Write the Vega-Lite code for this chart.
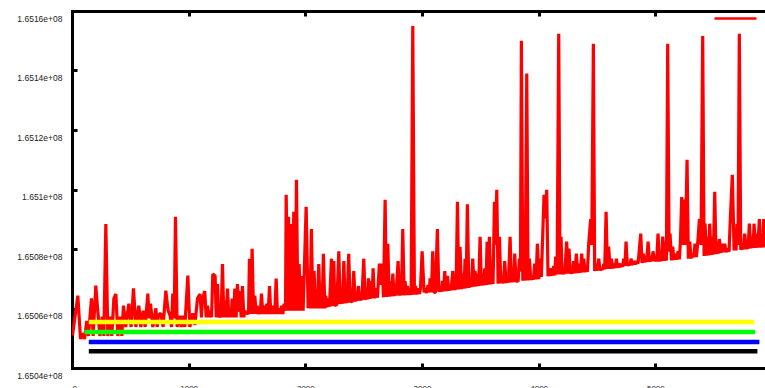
{
"$schema": "https://vega.github.io/schema/vega-lite/v6.json",
"width": 693, "height": 357,
"autosize": {"type": "none"},
"padding": {"left": 72, "top": 11, "right": 0, "bottom": 20},
"background": "white",
"config": {
  "view": {"stroke": null},
  "axis": {"grid": false, "domainColor": "black", "domainWidth": 3, "domainCap": "square", "tickColor": "black", "tickWidth": 3, "tickSize": -5, "labelFont": "Liberation Sans", "labelColor": "#222", "labelFontSize": 8, "title": null}
},
"datasets": {
"red": [
{"x":4,"y":165050875},{"x":50,"y":165064315},{"x":73,"y":165049755},{"x":90,"y":165051659},{"x":107,"y":165049755},{"x":127,"y":165055803},{"x":141,"y":165050763},{"x":167,"y":165063419},{"x":181,"y":165050763},{"x":204,"y":165067675},{"x":221,"y":165059163},{"x":239,"y":165050763},{"x":259,"y":165057259},{"x":273,"y":165050763},{"x":290,"y":165088395},{"x":307,"y":165050763},{"x":327,"y":165057259},{"x":341,"y":165050763},{"x":359,"y":165063419},{"x":376,"y":165064875},{"x":393,"y":165050763},{"x":413,"y":165057259},{"x":427,"y":165050763},{"x":441,"y":165060955},{"x":461,"y":165053787},{"x":487,"y":165061627},{"x":507,"y":165053787},{"x":527,"y":165066779},{"x":547,"y":165053787},{"x":573,"y":165060955},{"x":590,"y":165053787},{"x":610,"y":165059275},{"x":627,"y":165053787},{"x":650,"y":165064987},{"x":661,"y":165056699},{"x":673,"y":165061627},{"x":693,"y":165053787},{"x":719,"y":165060059},{"x":730,"y":165053787},{"x":741,"y":165057819},{"x":761,"y":165058379},{"x":781,"y":165053787},{"x":804,"y":165065995},{"x":824,"y":165059275},{"x":841,"y":165057595},{"x":853,"y":165053787},{"x":864,"y":165064987},{"x":876,"y":165056699},{"x":887,"y":165090859},{"x":901,"y":165053787},{"x":924,"y":165057595},{"x":936,"y":165053787},{"x":947,"y":165057595},{"x":967,"y":165053787},{"x":993,"y":165071035},{"x":1010,"y":165053787},
{"x":1036,"y":165058379},{"x":1053,"y":165054459},{"x":1076,"y":165063419},{"x":1098,"y":165064875},{"x":1110,"y":165057035},{"x":1118,"y":165062859},{"x":1138,"y":165065883},{"x":1150,"y":165057035},{"x":1161,"y":165060955},{"x":1173,"y":165057035},{"x":1184,"y":165059275},{"x":1196,"y":165057035},{"x":1207,"y":165071595},{"x":1227,"y":165070923},{"x":1236,"y":165057035},{"x":1247,"y":165068235},{"x":1258,"y":165057035},{"x":1267,"y":165057819},{"x":1278,"y":165057035},{"x":1290,"y":165074955},{"x":1301,"y":165057035},{"x":1313,"y":165062635},{"x":1321,"y":165057035},{"x":1333,"y":165066667},{"x":1344,"y":165057035},{"x":1353,"y":165059275},{"x":1364,"y":165057035},{"x":1373,"y":165063307},{"x":1384,"y":165057035},{"x":1396,"y":165066667},{"x":1407,"y":165057035},{"x":1418,"y":165068235},{"x":1430,"y":165058939},{"x":1438,"y":165065883},{"x":1450,"y":165057035},{"x":1461,"y":165067563},{"x":1473,"y":165057035},{"x":1481,"y":165059275},{"x":1493,"y":165058155},{"x":1501,"y":165058603},{"x":1513,"y":165058155},{"x":1521,"y":165076747},{"x":1533,"y":165058155},{"x":1544,"y":165080107},{"x":1556,"y":165058155},{"x":1567,"y":165064315},{"x":1578,"y":165058155},{"x":1587,"y":165060955},{"x":1596,"y":165058155},{"x":1604,"y":165059275},{"x":1613,"y":165058155},{"x":1624,"y":165064987},{"x":1636,"y":165058155},{"x":1647,"y":165060955},{"x":1658,"y":165058155},{"x":1670,"y":165061627},{"x":1681,"y":165058155},{"x":1693,"y":165067563},{"x":1704,"y":165058155},{"x":1713,"y":165060955},{"x":1721,"y":165058155},{"x":1730,"y":165060059},{"x":1738,"y":165058155},{"x":1750,"y":165070027},{"x":1761,"y":165058155},{"x":1773,"y":165060059},{"x":1784,"y":165058155},{"x":1796,"y":165060955},{"x":1807,"y":165058155},{"x":1818,"y":165061627},{"x":1830,"y":165059275},{"x":1836,"y":165098251},{"x":1847,"y":165059275},{"x":1856,"y":165090859},{"x":1867,"y":165059275},{"x":1878,"y":165088395},{"x":1890,"y":165059275},{"x":1901,"y":165092539},{"x":1913,"y":165059275},{"x":1924,"y":165103291},{"x":1936,"y":165059275},{"x":1947,"y":165074955},{"x":1958,"y":165059275},{"x":1970,"y":165070923},{"x":1981,"y":165059275},{"x":2007,"y":165094219},
{"x":2024,"y":165060059},{"x":2032,"y":165070139},{"x":2041,"y":165060059},{"x":2052,"y":165086715},{"x":2064,"y":165060059},{"x":2075,"y":165072603},{"x":2087,"y":165060059},{"x":2095,"y":165062523},{"x":2104,"y":165060059},{"x":2115,"y":165074955},{"x":2127,"y":165060059},{"x":2135,"y":165063419},{"x":2144,"y":165060059},{"x":2155,"y":165078427},{"x":2167,"y":165060059},{"x":2175,"y":165064315},{"x":2184,"y":165060395},{"x":2192,"y":165063419},{"x":2207,"y":165060619},{"x":2224,"y":165076747},{"x":2235,"y":165060731},{"x":2244,"y":165075963},{"x":2252,"y":165060955},{"x":2261,"y":165061179},{"x":2270,"y":165061179},{"x":2287,"y":165079211},{"x":2298,"y":165061515},{"x":2307,"y":165063419},{"x":2318,"y":165061627},{"x":2330,"y":165075963},{"x":2341,"y":165061739},{"x":2347,"y":165063419},{"x":2358,"y":165061851},{"x":2372,"y":165078427},{"x":2384,"y":165062075},{"x":2392,"y":165062523},{"x":2404,"y":165062187},{"x":2415,"y":165072603},{"x":2427,"y":165062411},{"x":2432,"y":165063419},{"x":2444,"y":165062635},{"x":2455,"y":165067563},{"x":2464,"y":165062747},{"x":2472,"y":165063419},{"x":2484,"y":165062859},{"x":2501,"y":165076747},{"x":2512,"y":165062971},{"x":2524,"y":165064315},{"x":2532,"y":165063083},{"x":2541,"y":165070139},{"x":2552,"y":165063195},{"x":2564,"y":165069243},{"x":2572,"y":165063419},{"x":2581,"y":165073499},{"x":2592,"y":165063419},{"x":2607,"y":165066779},{"x":2618,"y":165063643},{"x":2635,"y":165075067},{"x":2647,"y":165067899},{"x":2658,"y":165075067},{"x":2670,"y":165063755},{"x":2684,"y":165096571},{"x":2695,"y":165063867},{"x":2707,"y":165081787},{"x":2718,"y":165063979},{"x":2730,"y":165069243},{"x":2738,"y":165064091},{"x":2750,"y":165071707},{"x":2761,"y":165064203},{"x":2770,"y":165067563},{"x":2778,"y":165064315},{"x":2795,"y":165075963},{"x":2807,"y":165064315},{"x":2815,"y":165069243},{"x":2824,"y":165064427},{"x":2835,"y":165086715},{"x":2847,"y":165064427},{"x":2855,"y":165069243},{"x":2864,"y":165064539},{"x":2875,"y":165067563},{"x":2887,"y":165064539},{"x":2895,"y":165066779},{"x":2907,"y":165064539},{"x":2921,"y":165154923},{"x":2935,"y":165064651},{"x":2944,"y":165067563},{"x":2955,"y":165064763},{"x":2967,"y":165066779},{"x":2978,"y":165064875},{"x":2987,"y":165066779},{"x":3001,"y":165079211},
{"x":3018,"y":165065435},{"x":3026,"y":165066779},{"x":3038,"y":165065211},{"x":3052,"y":165067899},{"x":3064,"y":165065435},{"x":3069,"y":165070139},{"x":3081,"y":165065435},{"x":3092,"y":165079211},{"x":3104,"y":165065435},{"x":3115,"y":165065435},{"x":3132,"y":165086715},{"x":3144,"y":165065659},{"x":3155,"y":165066779},{"x":3166,"y":165065659},{"x":3175,"y":165069243},{"x":3184,"y":165065771},{"x":3195,"y":165072603},{"x":3206,"y":165065883},{"x":3218,"y":165070923},{"x":3229,"y":165065995},{"x":3238,"y":165067563},{"x":3249,"y":165066107},{"x":3264,"y":165072603},{"x":3275,"y":165066219},{"x":3284,"y":165067563},{"x":3292,"y":165066331},{"x":3304,"y":165095899},{"x":3315,"y":165066443},{"x":3326,"y":165080779},{"x":3338,"y":165066555},{"x":3349,"y":165071707},{"x":3361,"y":165066667},{"x":3369,"y":165076747},{"x":3378,"y":165066779},{"x":3389,"y":165095003},{"x":3401,"y":165067003},{"x":3409,"y":165069243},{"x":3424,"y":165067227},{"x":3435,"y":165076747},{"x":3446,"y":165067339},{"x":3455,"y":165072603},{"x":3466,"y":165067451},{"x":3475,"y":165071707},{"x":3486,"y":165067563},{"x":3498,"y":165084139},{"x":3509,"y":165067675},{"x":3518,"y":165071707},{"x":3529,"y":165067787},{"x":3538,"y":165073499},{"x":3549,"y":165067899},{"x":3558,"y":165082459},{"x":3569,"y":165068011},{"x":3578,"y":165084139},{"x":3589,"y":165068123},{"x":3601,"y":165070923},{"x":3609,"y":165068235},{"x":3621,"y":165095899},{"x":3629,"y":165081339},{"x":3641,"y":165099931},{"x":3652,"y":165068347},{"x":3664,"y":165084139},{"x":3675,"y":165068459},{"x":3686,"y":165070923},{"x":3698,"y":165068459},{"x":3709,"y":165075963},{"x":3721,"y":165068571},{"x":3729,"y":165070923},{"x":3741,"y":165068683},{"x":3755,"y":165084139},{"x":3766,"y":165068795},{"x":3775,"y":165070923},{"x":3786,"y":165068907},{"x":3795,"y":165078427},{"x":3806,"y":165069019},{"x":3815,"y":165069243},{"x":3824,"y":165069131},{"x":3835,"y":165076747},{"x":3844,"y":165072379},{"x":3852,"y":165149995},{"x":3864,"y":165069355},{"x":3872,"y":165076747},{"x":3884,"y":165069355},{"x":3898,"y":165139019},{"x":3909,"y":165069467},{"x":3921,"y":165076747},{"x":3932,"y":165069579},{"x":3944,"y":165070923},{"x":3955,"y":165069691},{"x":3966,"y":165075067},{"x":3978,"y":165069803},{"x":3989,"y":165081787},{"x":4001,"y":165069915},
{"x":4015,"y":165076747},{"x":4023,"y":165070587},{"x":4046,"y":165098251},{"x":4058,"y":165090299},{"x":4069,"y":165099931},{"x":4080,"y":165070811},{"x":4089,"y":165073499},{"x":4098,"y":165070923},{"x":4109,"y":165073499},{"x":4120,"y":165071035},{"x":4129,"y":165074283},{"x":4138,"y":165071147},{"x":4146,"y":165077419},{"x":4158,"y":165071483},{"x":4172,"y":165152347},{"x":4183,"y":165071483},{"x":4192,"y":165084139},{"x":4200,"y":165071595},{"x":4212,"y":165072603},{"x":4223,"y":165071595},{"x":4240,"y":165082459},{"x":4252,"y":165071707},{"x":4260,"y":165080107},{"x":4272,"y":165071707},{"x":4280,"y":165072603},{"x":4292,"y":165071819},{"x":4300,"y":165075963},{"x":4312,"y":165071819},{"x":4323,"y":165078427},{"x":4335,"y":165071931},{"x":4346,"y":165075067},{"x":4358,"y":165072043},{"x":4369,"y":165078427},{"x":4378,"y":165072155},{"x":4386,"y":165076747},{"x":4398,"y":165072267},{"x":4409,"y":165073499},{"x":4418,"y":165072379},{"x":4429,"y":165081787},{"x":4446,"y":165090075},{"x":4455,"y":165081339},{"x":4469,"y":165148987},{"x":4480,"y":165072603},{"x":4492,"y":165075067},{"x":4503,"y":165072715},{"x":4515,"y":165076747},{"x":4526,"y":165072827},{"x":4538,"y":165073499},{"x":4549,"y":165073051},{"x":4558,"y":165075067},{"x":4566,"y":165073163},{"x":4578,"y":165092539},{"x":4589,"y":165073275},{"x":4600,"y":165080779},{"x":4612,"y":165073387},{"x":4623,"y":165076747},{"x":4635,"y":165073499},{"x":4646,"y":165075067},{"x":4658,"y":165073611},{"x":4666,"y":165076747},{"x":4675,"y":165073723},{"x":4686,"y":165075067},{"x":4698,"y":165073835},{"x":4709,"y":165075067},{"x":4720,"y":165074059},{"x":4729,"y":165076747},{"x":4740,"y":165074283},{"x":4749,"y":165082459},{"x":4760,"y":165074395},{"x":4772,"y":165075067},{"x":4783,"y":165074507},{"x":4792,"y":165076747},{"x":4803,"y":165074619},{"x":4815,"y":165075963},{"x":4826,"y":165074843},{"x":4838,"y":165075963},{"x":4852,"y":165075067},{"x":4875,"y":165085147},{"x":4886,"y":165075291},{"x":4898,"y":165078427},{"x":4909,"y":165075515},{"x":4918,"y":165076747},{"x":4926,"y":165075627},{"x":4938,"y":165082459},{"x":4949,"y":165075739},{"x":4960,"y":165077643},{"x":4972,"y":165075851},{"x":4980,"y":165079211},{"x":4992,"y":165075963},
{"x":5003,"y":165076747},{"x":5012,"y":165075851},{"x":5023,"y":165085147},{"x":5035,"y":165075851},{"x":5043,"y":165076747},{"x":5055,"y":165075963},{"x":5063,"y":165084139},{"x":5075,"y":165075963},{"x":5083,"y":165082459},{"x":5095,"y":165076075},{"x":5106,"y":165148987},{"x":5118,"y":165079099},{"x":5126,"y":165085147},{"x":5138,"y":165076187},{"x":5149,"y":165080779},{"x":5160,"y":165076299},{"x":5169,"y":165078427},{"x":5180,"y":165076411},{"x":5195,"y":165079211},{"x":5206,"y":165076523},{"x":5215,"y":165082459},{"x":5226,"y":165097467},{"x":5238,"y":165081339},{"x":5249,"y":165096683},{"x":5258,"y":165081339},{"x":5272,"y":165110011},{"x":5283,"y":165076747},{"x":5295,"y":165082459},{"x":5306,"y":165076859},{"x":5318,"y":165078427},{"x":5329,"y":165077195},{"x":5340,"y":165081787},{"x":5352,"y":165077307},{"x":5363,"y":165081787},{"x":5378,"y":165090075},{"x":5392,"y":165081339},{"x":5406,"y":165151563},{"x":5418,"y":165077643},{"x":5426,"y":165088507},{"x":5438,"y":165077755},{"x":5446,"y":165084139},{"x":5458,"y":165077867},{"x":5466,"y":165088507},{"x":5478,"y":165077979},{"x":5489,"y":165084139},{"x":5498,"y":165078091},{"x":5509,"y":165099259},{"x":5520,"y":165078315},{"x":5529,"y":165082459},{"x":5540,"y":165078427},{"x":5549,"y":165083355},{"x":5560,"y":165078651},{"x":5572,"y":165081787},{"x":5583,"y":165078875},{"x":5595,"y":165081787},{"x":5606,"y":165078987},{"x":5620,"y":165080107},{"x":5632,"y":165079099},{"x":5640,"y":165087499},{"x":5660,"y":165104971},{"x":5675,"y":165079547},{"x":5683,"y":165085147},{"x":5692,"y":165079547},{"x":5700,"y":165088507},{"x":5709,"y":165081339},{"x":5720,"y":165152347},{"x":5732,"y":165079771},{"x":5743,"y":165080779},{"x":5755,"y":165079883},{"x":5766,"y":165085147},{"x":5778,"y":165079995},{"x":5786,"y":165080779},{"x":5795,"y":165080107},{"x":5806,"y":165088507},{"x":5818,"y":165080219},{"x":5826,"y":165084139},{"x":5838,"y":165080331},{"x":5846,"y":165088507},{"x":5858,"y":165080331},{"x":5866,"y":165085147},{"x":5878,"y":165080443},{"x":5892,"y":165090075},{"x":5903,"y":165080555},{"x":5912,"y":165082459},{"x":5920,"y":165080555},{"x":5929,"y":165090075},{"x":5940,"y":165080555},{"x":5955,"y":165088059},{"x":5970,"y":165080600}
],
"levels": [
{"x":144,"x2":5849,"y":165055460,"c":"#ffff00"},
{"x":107,"x2":5855,"y":165052100,"c":"#00ff00"},
{"x":144,"x2":5892,"y":165048740,"c":"#0000ff"},
{"x":144,"x2":5875,"y":165045610,"c":"#000000"}
]
},
"layer": [
  {
    "data": {"name": "red"},
    "mark": {"type": "line", "strokeWidth": 3.2, "clip": true, "strokeJoin": "bevel"},
    "encoding": {
      "x": {"field": "x", "type": "quantitative", "scale": {"domain": [0, 5940], "nice": false, "zero": false},
            "axis": {"orient": "bottom", "values": [0,1000,2000,3000,4000,5000], "format": "d", "labelPadding": 21}},
      "y": {"field": "y", "type": "quantitative", "scale": {"domain": [165040000, 165160000], "nice": false, "zero": false},
            "axis": {"orient": "left", "values": [165040000,165060000,165080000,165100000,165120000,165140000,165160000],
                     "labelExpr": "replace(format(datum.value, '.5~g'), 'e+8', 'e+08')", "labelPadding": 15, "labelOffset": 7, "labelFontSize": 8.5}},
      "color": {"datum": "s", "scale": {"domain": ["s"], "range": ["#ff0000"]},
                "legend": {"orient": "none", "legendX": 641, "legendY": -15, "title": null, "labelExpr": "''", "symbolType": "stroke", "symbolSize": 1764, "symbolStrokeWidth": 2.7, "padding": 0}}
    }
  },
  {
    "data": {"name": "levels"},
    "mark": {"type": "rule", "strokeWidth": 4.6, "clip": true, "strokeCap": "butt"},
    "encoding": {
      "x": {"field": "x", "type": "quantitative", "scale": {"domain": [0, 5940], "nice": false, "zero": false},
            "axis": {"orient": "top", "values": [0,1000,2000,3000,4000,5000], "labels": false}},
      "x2": {"field": "x2"},
      "y": {"field": "y", "type": "quantitative", "scale": {"domain": [165040000, 165160000], "nice": false, "zero": false}, "axis": null},
      "color": {"field": "c", "type": "nominal", "scale": null}
    }
  }
],
"resolve": {"axis": {"x": "independent", "y": "independent"}, "scale": {"color": "independent"}}
}
